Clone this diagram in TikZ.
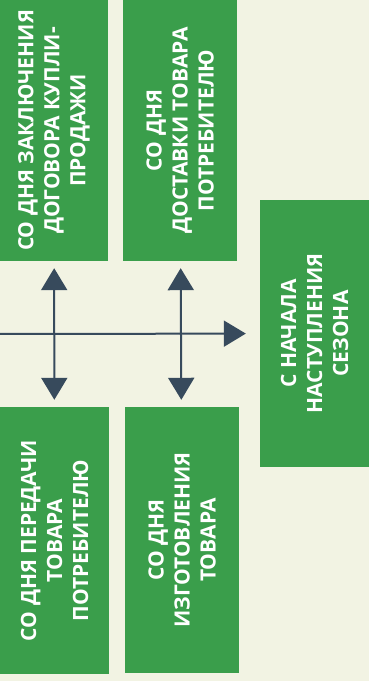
\documentclass[tikz,border=0pt]{standalone}
\usepackage{fontspec}
\setmainfont{Open Sans}
\usetikzlibrary{arrows.meta}
\definecolor{bg}{HTML}{F2F3E3}
\definecolor{boxgreen}{HTML}{3A9E4B}
\definecolor{arrowgray}{HTML}{374A5C}

\begin{document}
\begin{tikzpicture}
[x=1pt,y=1pt,>={Triangle[width=26pt,length=22pt]},
box/.style = {fill = boxgreen, rotate = 90, align = center, text = white, inner sep = 0pt,
  font = \fontsize{21}{26}\selectfont\bfseries},
axis/.style = {draw = arrowgray, line width = 2pt},]

\fill[bg] (0,0) rectangle (369,681);
\useasboundingbox (0,0) rectangle (369,681);
\node (B1) at (54,550.5)[box, minimum width=261pt, minimum height=108pt] {СО ДНЯ ЗАКЛЮЧЕНИЯ\\ДОГОВОРА КУПЛИ-\\ПРОДАЖИ};
\node (B2) at (180,550.5)[box, minimum width=261pt, minimum height=114pt] {СО ДНЯ\\ДОСТАВКИ ТОВАРА\\ПОТРЕБИТЕЛЮ};
\node (B3) at (314.5,347.5)[box, minimum width=267pt, minimum height=109pt] {С НАЧАЛА\\НАСТУПЛЕНИЯ\\СЕЗОНА};
\node (B4) at (54.5,140.5)[box, minimum width=267pt, minimum height=109pt] {СО ДНЯ ПЕРЕДАЧИ\\ТОВАРА\\ПОТРЕБИТЕЛЮ};
\node (B5) at (182,141)[box, minimum width=266pt, minimum height=114pt] {СО ДНЯ\\ИЗГОТОВЛЕНИЯ\\ТОВАРА};
\coordinate (S) at (0,347);
\draw[axis,->,shorten >=14pt] (S)--(B3);
\draw[axis,<->,shorten >=7pt,shorten <=7pt] (B1)--(B4);
\draw[axis,<->,shorten >=7pt,shorten <=7pt] (B2)--(B5);
\end{tikzpicture}
\end{document}
